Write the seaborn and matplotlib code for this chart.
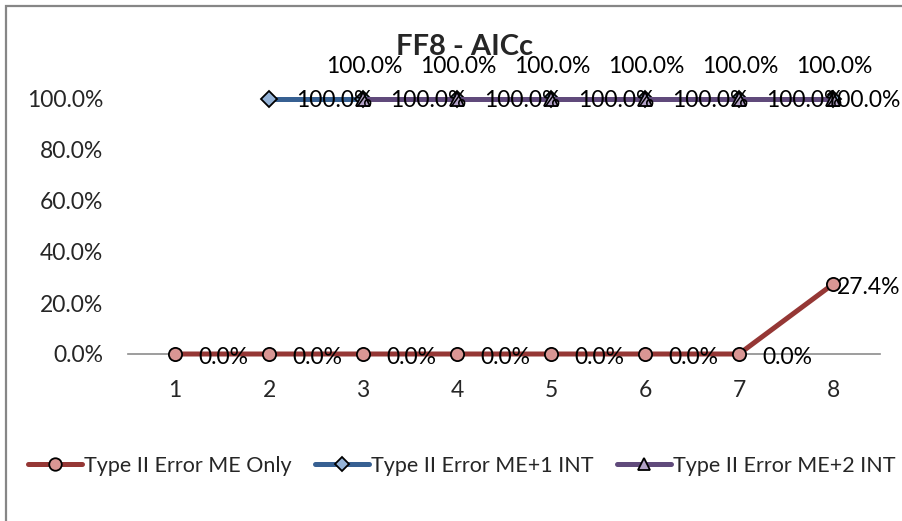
import matplotlib
matplotlib.use("Agg")
import matplotlib.pyplot as plt
import seaborn as sns
import pandas as pd
import numpy as np
from matplotlib.lines import Line2D
from matplotlib.patches import Rectangle

categories = [1, 2, 3, 4, 5, 6, 7, 8]
me_only = [0.0, 0.0, 0.0, 0.0, 0.0, 0.0, 0.0, 27.4]
me_1int = [None, 100.0, 100.0, 100.0, 100.0, 100.0, 100.0, 100.0]
me_2int = [None, None, 100.0, 100.0, 100.0, 100.0, 100.0, 100.0]
series_names = ["Type II Error ME Only", "Type II Error ME+1 INT", "Type II Error ME+2 INT"]
y_ticks = [0, 20, 40, 60, 80, 100]
title = "FF8 - AICc"

sns.set_theme(style="white")
plt.rcParams['font.family'] = ['Lato', 'DejaVu Sans']

rows = []
for name, vals in zip(series_names, [me_only, me_1int, me_2int]):
    for c, v in zip(categories, vals):
        if v is not None:
            rows.append({"cat": c, "val": v, "series": name})
df = pd.DataFrame(rows)

fig = plt.figure(figsize=(9.02, 5.21), dpi=100)
ax = fig.add_axes([128/902, 1-354/521, (880-128)/902, (354-99)/521])

line_colors = ["#953735", "#376092", "#604A7B"]
face_colors = ["#D99694", "#95B3D7", "#B3A2C7"]
markers = ["o", "D", "^"]
msizes = [9.5, 8, 9.5]

for i, name in enumerate(series_names):
    sub = df[df.series == name]
    sns.lineplot(data=sub, x="cat", y="val", ax=ax, color=line_colors[i], linewidth=3.6,
                 marker=markers[i], markersize=msizes[i], markerfacecolor=face_colors[i],
                 markeredgecolor="black", markeredgewidth=1.3, legend=False, zorder=3+i,
                 clip_on=False)

fs = 16.5
px = 0.72  # points per pixel


def label_right(c, v, last, dy, gap):
    if last:
        ax.annotate(f"{v:.1f}%", (c, v), xytext=(67*px, dy*px), textcoords="offset points",
                    ha="right", va="center", fontsize=fs, color="black", zorder=10,
                    annotation_clip=False)
    else:
        ax.annotate(f"{v:.1f}%", (c, v), xytext=(gap*px, dy*px), textcoords="offset points",
                    ha="left", va="center", fontsize=fs, color="black", zorder=10,
                    annotation_clip=False)


valid0 = [(c, v) for c, v in zip(categories, me_only) if v is not None]
for j, (c, v) in enumerate(valid0):
    label_right(c, v, j == len(valid0) - 1, -3, 23)
valid1 = [(c, v) for c, v in zip(categories, me_1int) if v is not None]
for j, (c, v) in enumerate(valid1):
    label_right(c, v, j == len(valid1) - 1, -2, 27)
for c, v in zip(categories, me_2int):
    if v is not None:
        ax.annotate(f"{v:.1f}%", (c, v), xytext=(1*px, 32*px), textcoords="offset points",
                    ha="center", va="center", fontsize=fs, color="black", zorder=10,
                    annotation_clip=False)

ax.set_xlim(0.5, 8.5)
ax.set_ylim(0, 100)
ax.set_yticks(y_ticks)
ax.set_yticklabels([f"{t:.1f}%" for t in y_ticks], fontsize=fs)
ax.set_xticks(categories)
ax.set_xticklabels([str(c) for c in categories], fontsize=fs)
ax.tick_params(axis="x", length=0, pad=19)
ax.tick_params(axis="y", length=0, pad=18)
ax.set_xlabel("")
ax.set_ylabel("")
for s in ["top", "right", "left"]:
    ax.spines[s].set_visible(False)
ax.spines["bottom"].set_color("#8C8C8C")
ax.spines["bottom"].set_linewidth(1.2)
ax.grid(False)
ax.patch.set_alpha(0)

fig.text(465/902, 1-47/521, title, ha="center", va="center", fontsize=21, fontweight="bold")

handles = [Line2D([0], [0], color=line_colors[i], lw=3.6, marker=markers[i], markersize=msizes[i]-0.5,
                  markerfacecolor=face_colors[i], markeredgecolor="black", markeredgewidth=1.3)
           for i in range(3)]
fig.legend(handles, series_names, loc="center", bbox_to_anchor=(462/902, 1-466/521), ncol=3,
           frameon=False, fontsize=15.5, handlelength=2.5, handletextpad=0.1, columnspacing=1.1)

fig.patches.append(Rectangle((6/902, -0.1), 1.2, 1.1 - 6/521, transform=fig.transFigure,
                             fill=False, edgecolor="#868686", linewidth=1.6, zorder=0))

fig.savefig("out.png", dpi=100)
